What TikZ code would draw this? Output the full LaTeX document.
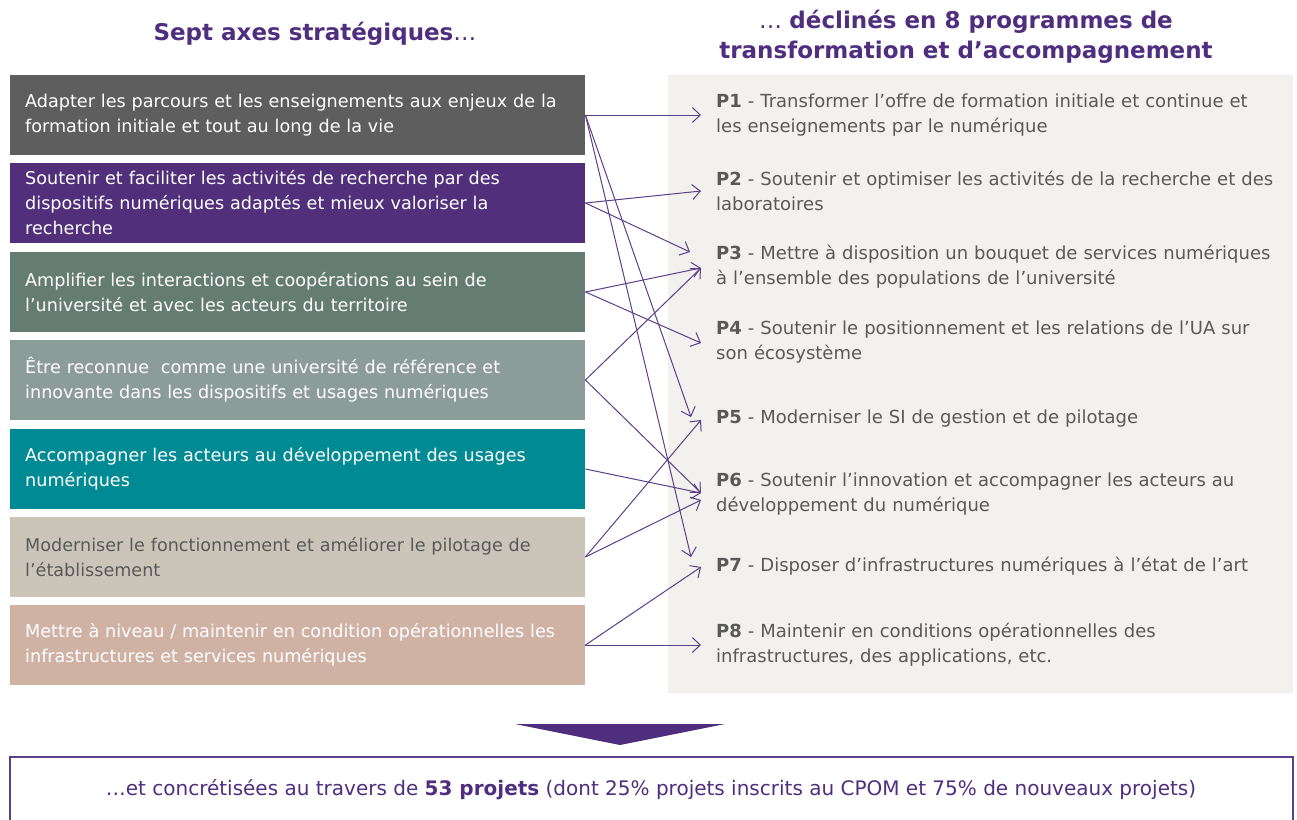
\documentclass[tikz,border=0pt]{standalone}
\usepackage{fontspec}
\setmainfont{DejaVu Sans}
\usetikzlibrary{arrows.meta,positioning}

\definecolor{uaviolet}{HTML}{4F2D7F}
\definecolor{lienviolet}{HTML}{5A3F8A}
\definecolor{axeA}{HTML}{5E5E5E}
\definecolor{axeB}{HTML}{512F7A}
\definecolor{axeC}{HTML}{647C72}
\definecolor{axeD}{HTML}{8C9C99}
\definecolor{axeE}{HTML}{008A94}
\definecolor{axeF}{HTML}{CBC5B9}
\definecolor{axeG}{HTML}{D0B2A5}
\definecolor{fondprog}{HTML}{F2F1ED}
\definecolor{texteprog}{HTML}{595959}

\tikzset{
  axe/.style={fill=#1, text=white, anchor=west, minimum width=575pt,
    minimum height=80pt, text width=545pt, inner xsep=15pt, inner ysep=0pt,
    align=left, font=\fontsize{17.6}{25}\selectfont},
  prog/.style={text=texteprog, anchor=west, text width=575pt, inner sep=0pt,
    align=left, font=\fontsize{18}{25}\selectfont},
  titre/.style={text=uaviolet, align=center, font=\fontsize{23}{30}\selectfont},
  lien/.style={draw=lienviolet, line width=1pt, -{Straight Barb[length=8pt,width=15pt,line width=1pt]}},
}

\begin{document}
\begin{tikzpicture}[x=1pt,y=-1pt]
	\useasboundingbox (0,0) rectangle (1297,819);

	% titres
	\node[titre] (tg) at (315,34) {\textbf{Sept axes stratégiques}…};
	\node[titre] (td) at (966,37) {… \textbf{déclinés en 8 programmes de}\\\textbf{transformation et d’accompagnement}};

	% les sept axes
	\node[axe=axeA] (a1) at (10,115) {Adapter les parcours et les enseignements aux enjeux de la\\formation initiale et tout au long de la vie};
	\node[axe=axeB] (a2) at (10,203) {Soutenir et faciliter les activités de recherche par des\\dispositifs numériques adaptés et mieux valoriser la\\recherche};
	\node[axe=axeC] (a3) at (10,292) {Amplifier les interactions et coopérations au sein de\\l’université et avec les acteurs du territoire};
	\node[axe=axeD] (a4) at (10,380) {Être reconnue\ \ comme une université de référence et\\innovante dans les dispositifs et usages numériques};
	\node[axe=axeE] (a5) at (10,469) {Accompagner les acteurs au développement des usages\\numériques};
	\node[axe=axeF] (a6) at (10,557) {\color{texteprog}Moderniser le fonctionnement et améliorer le pilotage de\\l’établissement};
	\node[axe=axeG] (a7) at (10,645) {Mettre à niveau / maintenir en condition opérationnelles les\\infrastructures et services numériques};

	% les huit programmes
	\fill[fondprog] (668,75) rectangle (1293,693);
	\node[prog] (p1) at (716,115) {\textbf{P1} - Transformer l'offre de formation initiale et continue et\\les enseignements par le numérique};
	\node[prog] (p2) at (716,191) {\textbf{P2} - Soutenir et optimiser les activités de la recherche et des\\laboratoires};
	\node[prog] (p3) at (716,267) {\textbf{P3} - Mettre à disposition un bouquet de services numériques\\à l'ensemble des populations de l'université};
	\node[prog] (p4) at (716,342) {\textbf{P4} - Soutenir le positionnement et les relations de l’UA sur\\son écosystème};
	\node[prog] (p5) at (716,419) {\textbf{P5} - Moderniser le SI de gestion et de pilotage};
	\node[prog] (p6) at (716,494) {\textbf{P6} - Soutenir l'innovation et accompagner les acteurs au\\développement du numérique};
	\node[prog] (p7) at (716,566) {\textbf{P7} - Disposer d’infrastructures numériques à l’état de l’art};
	\node[prog] (p8) at (716,645) {\textbf{P8} - Maintenir en conditions opérationnelles des\\infrastructures, des applications, etc.};

	% pointes des fleches
	\coordinate (b1) at (701,115);
	\coordinate (b2) at (701,191);
	\coordinate (b3a) at (690,252);
	\coordinate (b3) at (701,268);
	\coordinate (b4) at (701,343);
	\coordinate (b5a) at (691,417);
	\coordinate (b5) at (701,420);
	\coordinate (b6) at (701,493);
	\coordinate (b6a) at (701,500);
	\coordinate (b7a) at (691,557);
	\coordinate (b7) at (701,567);
	\coordinate (b8) at (701,645);

	\draw[lien] (a1.east) -- (b1);
	\draw[lien] (a1.east) -- (b5a);
	\draw[lien] (a1.east) -- (b7a);
	\draw[lien] (a2.east) -- (b2);
	\draw[lien] (a2.east) -- (b3a);
	\draw[lien] (a3.east) -- (b3);
	\draw[lien] (a3.east) -- (b4);
	\draw[lien] (a4.east) -- (b3);
	\draw[lien] (a4.east) -- (b6);
	\draw[lien] (a5.east) -- (b6);
	\draw[lien] (a6.east) -- (b5);
	\draw[lien] (a6.east) -- (b6a);
	\draw[lien] (a7.east) -- (b7);
	\draw[lien] (a7.east) -- (b8);

	% bas
	\fill[uaviolet] (515,724) -- (725,724) -- (620,745) -- cycle;
	\draw[lienviolet, line width=1.5pt] (10,830) -- (10,757) -- (1293,757) -- (1293,830);
	\node[text=uaviolet, font=\fontsize{20}{24}\selectfont] (bas) at (651,790) {…et concrétisées au travers de \textbf{53 projets} (dont 25\% projets inscrits au CPOM et 75\% de nouveaux projets)};
\end{tikzpicture}
\end{document}
